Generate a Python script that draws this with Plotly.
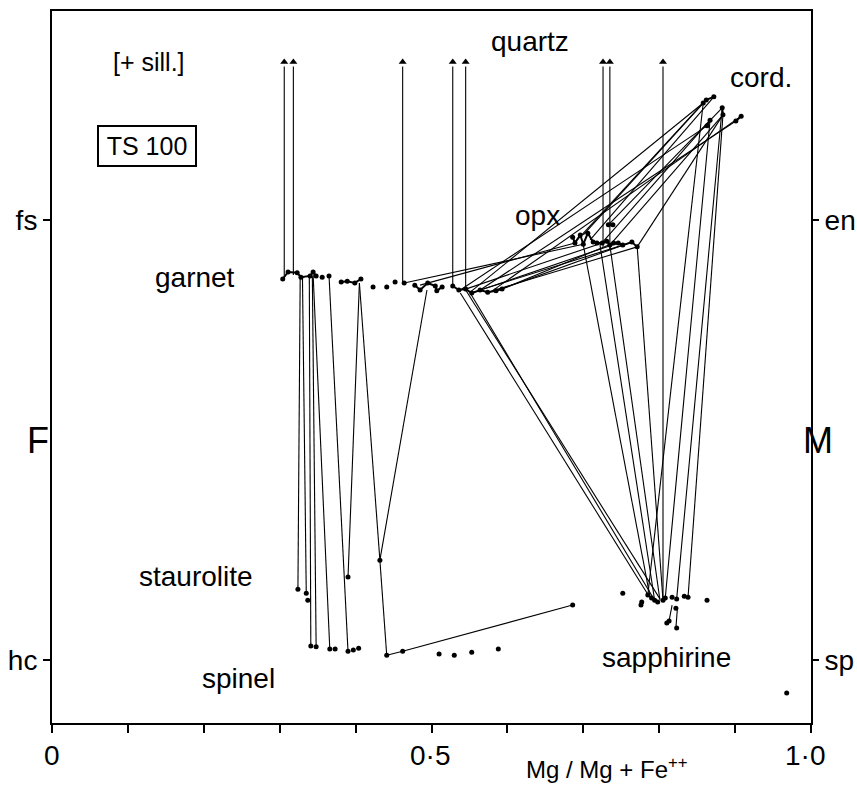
import plotly.graph_objects as go

# ---------------- data (x = Mg/(Mg+Fe++), y: hc/sp = 0, F/M = 0.5, fs/en = 1) -------------
garnet_x = [0.304, 0.311, 0.323, 0.328, 0.340, 0.344, 0.348, None,
            0.356, None, 0.365, None,
            0.381, 0.389, 0.399, 0.407, None,
            0.423, None, 0.441, None, 0.452, None, 0.464, None,
            0.478, 0.485, 0.495, 0.505, 0.507, 0.514, None,
            0.528, 0.536, 0.545, 0.553, 0.564, 0.574, 0.585, 0.593]
garnet_y = [0.866, 0.882, 0.880, 0.870, 0.873, 0.882, 0.873, None,
            0.870, None, 0.873, None,
            0.859, 0.861, 0.857, 0.866, None,
            0.848, None, 0.848, None, 0.859, None, 0.857, None,
            0.852, 0.841, 0.857, 0.850, 0.839, 0.848, None,
            0.850, 0.841, 0.843, 0.834, 0.841, 0.836, 0.839, 0.843]

opx_x = [0.686, 0.689, 0.696, 0.700, 0.706, 0.713, 0.718, 0.725, 0.731, 0.735,
         0.740, 0.746, 0.752, 0.764, 0.771, None, 0.733, 0.739]
opx_y = [0.961, 0.948, 0.966, 0.945, 0.970, 0.950, 0.948, 0.948, 0.952, 0.943,
         0.948, 0.948, 0.943, 0.950, 0.939, None, 0.989, 0.989]

cord_x = [0.858, 0.862, 0.872, None, 0.883, 0.884, None, 0.867, 0.863, None, 0.908, 0.901]
cord_y = [1.266, 1.273, 1.280, None, 1.255, 1.239, None, 1.227, 1.214, None, 1.236, 1.225]

staurolite_x = [0.324, 0.335, 0.337, 0.390, 0.432, 0.686]
staurolite_y = [0.161, 0.152, 0.136, 0.189, 0.227, 0.125]

spinel_x = [0.341, 0.348, 0.366, 0.373, 0.390, 0.397, 0.404, 0.441, 0.462,
            0.510, 0.530, 0.553, 0.588]
spinel_y = [0.032, 0.030, 0.025, 0.025, 0.020, 0.023, 0.027, 0.011, 0.020,
            0.014, 0.011, 0.018, 0.025]

sapphirine_x = [0.752, 0.777, 0.776, 0.785, 0.790, 0.794, 0.798, 0.805, 0.808,
                0.817, 0.823, 0.833, 0.838, 0.863, 0.822, 0.810, 0.813, 0.823, 0.968]
sapphirine_y = [0.152, 0.132, 0.125, 0.148, 0.141, 0.136, 0.132, 0.136, 0.141,
                0.143, 0.139, 0.145, 0.143, 0.136, 0.118, 0.084, 0.089, 0.073, -0.075]

# tie lines (x1, y1, x2, y2)
garnet_stau_spinel_ties = [
    (0.327, 0.868, 0.324, 0.161), (0.330, 0.868, 0.335, 0.152),
    (0.339, 0.870, 0.341, 0.032), (0.343, 0.872, 0.348, 0.030),
    (0.344, 0.877, 0.366, 0.025), (0.365, 0.873, 0.390, 0.020),
    (0.405, 0.857, 0.390, 0.189), (0.405, 0.857, 0.432, 0.227),
    (0.494, 0.841, 0.432, 0.227), (0.432, 0.227, 0.441, 0.011),
    (0.441, 0.011, 0.462, 0.020), (0.462, 0.020, 0.686, 0.125),
]
garnet_opx_ties = [
    (0.485, 0.852, 0.689, 0.948), (0.464, 0.857, 0.700, 0.945),
    (0.553, 0.834, 0.746, 0.948), (0.564, 0.841, 0.752, 0.943),
    (0.574, 0.836, 0.771, 0.939), (0.585, 0.839, 0.764, 0.950),
    (0.593, 0.843, 0.740, 0.948), (0.545, 0.843, 0.725, 0.948),
]
opx_cord_ties = [
    (0.692, 0.955, 0.858, 1.266), (0.700, 0.966, 0.862, 1.273),
    (0.709, 0.955, 0.872, 1.280), (0.733, 0.989, 0.883, 1.255),
    (0.722, 0.943, 0.867, 1.227), (0.735, 0.943, 0.884, 1.239),
    (0.771, 0.939, 0.884, 1.239),
]
garnet_cord_ties = [
    (0.580, 0.839, 0.908, 1.236), (0.551, 0.836, 0.858, 1.266),
    (0.564, 0.841, 0.901, 1.225), (0.538, 0.841, 0.863, 1.214),
]
opx_sapphirine_ties = [
    (0.700, 0.943, 0.788, 0.143), (0.722, 0.943, 0.794, 0.136),
    (0.735, 0.943, 0.801, 0.136), (0.771, 0.939, 0.805, 0.136),
]
garnet_sapphirine_ties = [
    (0.538, 0.834, 0.788, 0.141), (0.551, 0.834, 0.794, 0.136),
    (0.545, 0.841, 0.801, 0.139),
]
cord_sapphirine_ties = [
    (0.858, 1.266, 0.785, 0.148), (0.867, 1.227, 0.808, 0.141),
    (0.883, 1.255, 0.823, 0.139), (0.884, 1.239, 0.838, 0.143),
]
sapphirine_ties = [(0.817, 0.125, 0.813, 0.089), (0.824, 0.118, 0.822, 0.073)]

quartz_x = [0.306, 0.318, 0.462, 0.528, 0.545, 0.726, 0.735, 0.805]
quartz_y0 = [0.866, 0.875, 0.857, 0.850, 0.843, 0.939, 0.932, 0.141]
quartz_top = 1.359

x_tickvals = [i / 10 for i in range(11)]
x_ticklabels = [(0.0, "0"), (0.498, "0·5"), (0.992, "1·0")]
left_ticks = [0, 1]
left_labels = ["hc", "fs"]
right_labels = ["sp", "en"]

FONT = "Liberation Sans, Arial, sans-serif"
LABEL_SIZE = 28
Y_RANGE = [-0.143, 1.475]

fig = go.Figure()


def add_ties(ties, width=1.1):
    xs, ys = [], []
    for x1, y1, x2, y2 in ties:
        xs += [x1, x2, None]
        ys += [y1, y2, None]
    fig.add_trace(go.Scatter(x=xs, y=ys, mode="lines",
                             line=dict(color="black", width=width),
                             hoverinfo="skip", showlegend=False))


for t in [garnet_stau_spinel_ties, garnet_opx_ties, opx_cord_ties, garnet_cord_ties,
          opx_sapphirine_ties, garnet_sapphirine_ties, cord_sapphirine_ties, sapphirine_ties]:
    add_ties(t)

# quartz lines with arrow heads
qx, qy = [], []
for x, y0 in zip(quartz_x, quartz_y0):
    qx += [x, x, None]
    qy += [y0, quartz_top - 0.01, None]
fig.add_trace(go.Scatter(x=qx, y=qy, mode="lines", line=dict(color="black", width=1.1),
                         hoverinfo="skip", showlegend=False))
fig.add_trace(go.Scatter(x=quartz_x, y=[quartz_top] * len(quartz_x), mode="markers",
                         marker=dict(symbol="triangle-up", size=7, color="black"),
                         hoverinfo="skip", showlegend=False))

# zoning profiles (lines + dots)
for xs, ys in [(garnet_x, garnet_y), (opx_x, opx_y), (cord_x, cord_y)]:
    fig.add_trace(go.Scatter(x=xs, y=ys, mode="lines+markers",
                             line=dict(color="black", width=2),
                             marker=dict(color="black", size=5),
                             hoverinfo="skip", showlegend=False))
for xs, ys in [(staurolite_x, staurolite_y), (spinel_x, spinel_y), (sapphirine_x, sapphirine_y)]:
    fig.add_trace(go.Scatter(x=xs, y=ys, mode="markers",
                             marker=dict(color="black", size=5),
                             hoverinfo="skip", showlegend=False))

# invisible trace for the right axis
fig.add_trace(go.Scatter(x=[0.5], y=[0.5], yaxis="y2", mode="markers",
                         marker=dict(opacity=0), hoverinfo="skip", showlegend=False))

labels = [
    ("[+ sill.]", 0.128, 1.359, 25),
    ("quartz", 0.630, 1.405, LABEL_SIZE),
    ("cord.", 0.934, 1.325, LABEL_SIZE),
    ("opx", 0.639, 1.011, LABEL_SIZE),
    ("garnet", 0.188, 0.870, LABEL_SIZE),
    ("staurolite", 0.190, 0.189, LABEL_SIZE),
    ("spinel", 0.246, -0.041, LABEL_SIZE),
    ("sapphirine", 0.810, 0.005, LABEL_SIZE),
]
for txt, x, y, s in labels:
    fig.add_annotation(x=x, y=y, xref="x", yref="y", text=txt, showarrow=False,
                       font=dict(family=FONT, size=s, color="black"))

fig.add_annotation(x=0.125, y=1.168, xref="x", yref="y", text="TS 100", showarrow=False,
                   font=dict(family=FONT, size=25, color="black"),
                   width=90, height=32,
                   bordercolor="black", borderwidth=2, borderpad=3)

for v, t in x_ticklabels:
    fig.add_annotation(x=v, y=0, xref="x", yref="paper", yshift=-32, yanchor="middle",
                       text=t, showarrow=False,
                       font=dict(family=FONT, size=28, color="black"))
fig.add_annotation(x=0.731, y=0, xref="x", yref="paper", yshift=-45, yanchor="middle",
                   text="Mg / Mg + Fe<sup>++</sup>", showarrow=False,
                   font=dict(family=FONT, size=24, color="black"))
fig.add_annotation(x=0, y=0.5, xref="paper", yref="y", xshift=-27, text="F",
                   showarrow=False, font=dict(family=FONT, size=36, color="black"))
fig.add_annotation(x=1, y=0.5, xref="paper", yref="y", xshift=24, text="M",
                   showarrow=False, font=dict(family=FONT, size=36, color="black"))

fig.update_layout(
    width=857, height=786,
    margin=dict(l=52, r=46, t=11, b=63),
    paper_bgcolor="white", plot_bgcolor="white",
    showlegend=False,
    xaxis=dict(range=[0, 1], showline=True, mirror=True, linecolor="black", linewidth=2,
               ticks="outside", ticklen=8, tickwidth=1.5, tickcolor="black",
               tickvals=x_tickvals, showticklabels=False, showgrid=False, zeroline=False,
               automargin=False),
    yaxis=dict(range=Y_RANGE, showline=True, mirror=True, linecolor="black", linewidth=2,
               ticks="outside", ticklen=7, tickwidth=1.5, tickcolor="black",
               tickvals=left_ticks, ticktext=left_labels,
               tickfont=dict(family=FONT, size=28, color="black"),
               showgrid=False, zeroline=False, automargin=False),
    yaxis2=dict(range=Y_RANGE, overlaying="y", side="right", showline=False,
                ticks="outside", ticklen=7, tickwidth=1.5, tickcolor="black",
                tickvals=left_ticks, ticktext=right_labels,
                tickfont=dict(family=FONT, size=28, color="black"),
                showgrid=False, zeroline=False, automargin=False),
)

fig.write_html("out.html")
